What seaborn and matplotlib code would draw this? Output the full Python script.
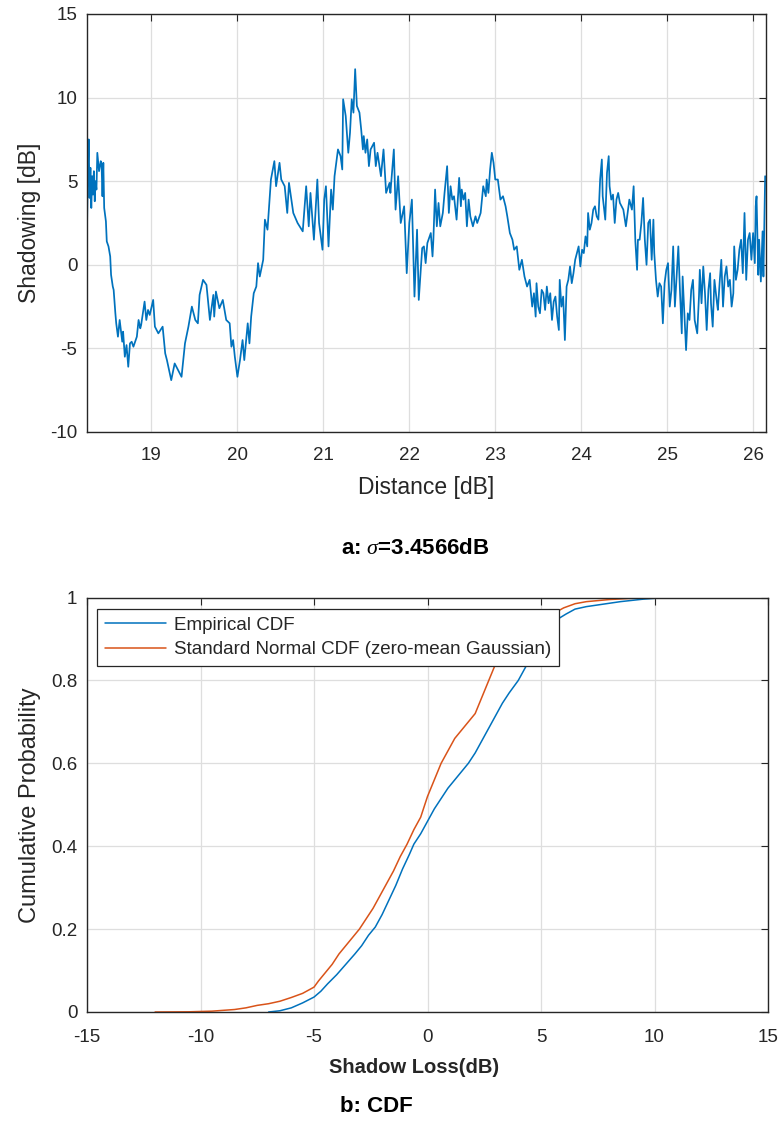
import matplotlib
matplotlib.use("Agg")
import matplotlib.pyplot as plt
import seaborn as sns
import pandas as pd
from matplotlib.ticker import FuncFormatter

# ---------------- data ----------------
distance = [
    18.25, 18.26, 18.27, 18.28, 18.29, 18.30, 18.31, 18.32, 18.33, 18.34,
    18.35, 18.36, 18.37, 18.39, 18.41, 18.42, 18.43, 18.44, 18.45, 18.47,
    18.48, 18.50, 18.52, 18.53, 18.55, 18.56, 18.58, 18.59, 18.61, 18.63,
    18.66, 18.67, 18.69, 18.71, 18.73, 18.75, 18.77, 18.79, 18.81, 18.83,
    18.85, 18.87, 18.88, 18.92, 18.94, 18.96, 18.98, 19.02, 19.04, 19.08,
    19.13, 19.16, 19.18, 19.23, 19.27, 19.31, 19.35, 19.39, 19.43, 19.47,
    19.51, 19.54, 19.56, 19.60, 19.64, 19.68, 19.72, 19.73, 19.75, 19.79,
    19.83, 19.87, 19.91, 19.93, 19.95, 19.97, 20.00, 20.03, 20.06, 20.08,
    20.12, 20.14, 20.16, 20.19, 20.22, 20.24, 20.26, 20.30, 20.32, 20.35,
    20.39, 20.43, 20.45, 20.49, 20.51, 20.55, 20.58, 20.60, 20.65, 20.70,
    20.76, 20.80, 20.83, 20.85, 20.89, 20.93, 20.95, 20.99, 21.01, 21.03,
    21.06, 21.09, 21.11, 21.13, 21.17, 21.20, 21.22, 21.23, 21.26, 21.29,
    21.31, 21.33, 21.35, 21.37, 21.39, 21.42, 21.44, 21.46, 21.47, 21.49,
    21.51, 21.53, 21.55, 21.59, 21.61, 21.63, 21.67, 21.70, 21.73, 21.77,
    21.78, 21.82, 21.84, 21.87, 21.90, 21.94, 21.97, 22.00, 22.03, 22.06,
    22.09, 22.11, 22.15, 22.17, 22.19, 22.21, 22.25, 22.27, 22.28, 22.30,
    22.32, 22.34, 22.36, 22.39, 22.41, 22.44, 22.46, 22.48, 22.50, 22.52,
    22.55, 22.58, 22.60, 22.61, 22.63, 22.65, 22.67, 22.69, 22.71, 22.74,
    22.77, 22.79, 22.83, 22.86, 22.89, 22.90, 22.92, 22.94, 22.96, 22.98,
    23.00, 23.03, 23.06, 23.09, 23.12, 23.14, 23.17, 23.20, 23.22, 23.25,
    23.28, 23.31, 23.34, 23.37, 23.40, 23.43, 23.45, 23.47, 23.48, 23.50,
    23.52, 23.54, 23.56, 23.58, 23.60, 23.62, 23.64, 23.66, 23.68, 23.70,
    23.72, 23.74, 23.75, 23.77, 23.79, 23.81, 23.83, 23.85, 23.87, 23.89,
    23.91, 23.93, 23.95, 23.97, 23.99, 24.01, 24.03, 24.05, 24.07, 24.08,
    24.10, 24.12, 24.14, 24.16, 24.18, 24.20, 24.22, 24.24, 24.25, 24.28,
    24.30, 24.32, 24.33, 24.35, 24.37, 24.39, 24.41, 24.43, 24.45, 24.47,
    24.49, 24.52, 24.54, 24.56, 24.59, 24.61, 24.63, 24.65, 24.66, 24.68,
    24.70, 24.72, 24.74, 24.76, 24.78, 24.80, 24.82, 24.84, 24.85, 24.87,
    24.89, 24.91, 24.93, 24.95, 24.97, 24.99, 25.01, 25.03, 25.05, 25.07,
    25.09, 25.11, 25.13, 25.15, 25.17, 25.18, 25.20, 25.22, 25.24, 25.26,
    25.28, 25.30, 25.32, 25.35, 25.37, 25.38, 25.40, 25.42, 25.44, 25.46,
    25.48, 25.50, 25.51, 25.53, 25.55, 25.58, 25.59, 25.61, 25.63, 25.65,
    25.67, 25.69, 25.71, 25.73, 25.75, 25.77, 25.78, 25.80, 25.82, 25.84,
    25.86, 25.88, 25.90, 25.92, 25.94, 25.96, 25.98, 26.00, 26.02, 26.03,
    26.04, 26.06, 26.07, 26.09, 26.11, 26.12, 26.14,
]
shadowing = [
    2.1, 5.5, 7.5, 4.0, 5.8, 3.4, 5.3, 4.2, 5.6, 3.8,
    5.0, 4.5, 6.7, 5.6, 6.2, 5.9, 4.1, 6.1, 3.4, 2.6,
    1.4, 1.1, 0.5, -0.6, -1.3, -1.5, -2.9, -3.5, -4.3, -3.3,
    -4.6, -4.0, -5.5, -4.8, -6.1, -4.7, -4.6, -4.9, -4.6, -4.3,
    -3.3, -3.8, -3.6, -2.2, -3.3, -2.7, -3.0, -2.1, -3.7, -4.1,
    -3.7, -5.3, -5.7, -6.9, -5.9, -6.3, -6.7, -4.7, -3.7, -2.5,
    -3.3, -3.5, -1.8, -0.9, -1.2, -3.3, -1.8, -3.1, -1.6, -2.6,
    -2.1, -3.3, -3.5, -4.9, -4.5, -5.5, -6.7, -5.7, -4.5, -5.7,
    -3.5, -4.7, -3.1, -1.7, -1.3, 0.1, -0.7, 0.3, 2.7, 2.1,
    5.1, 6.2, 4.7, 6.1, 5.1, 4.7, 3.1, 4.9, 3.1, 2.5,
    2.0, 4.7, 2.3, 4.3, 1.5, 5.1, 2.5, 0.9, 3.9, 4.7,
    1.1, 4.5, 3.3, 5.3, 6.9, 6.5, 5.7, 9.9, 8.9, 6.7,
    7.9, 9.9, 9.1, 11.7, 9.5, 9.1, 8.1, 6.9, 7.7, 6.7,
    7.5, 5.9, 6.9, 7.3, 5.9, 6.7, 5.3, 6.9, 4.3, 4.9,
    4.3, 6.9, 3.3, 5.3, 2.5, 3.5, -0.5, 2.5, 3.9, -1.9,
    2.1, -2.1, 1.0, 1.1, 0.1, 1.3, 1.9, 0.5, 1.5, 4.5,
    2.3, 3.7, 2.3, 3.1, 4.3, 5.9, 3.1, 4.7, 3.9, 4.1,
    2.7, 5.2, 3.5, 4.5, 3.9, 4.3, 2.3, 3.9, 2.9, 2.3,
    2.9, 2.5, 3.1, 4.7, 4.1, 5.1, 4.3, 5.7, 6.7, 6.1,
    5.1, 5.1, 3.9, 4.1, 3.5, 2.9, 1.9, 1.5, 0.9, 1.1,
    -0.3, 0.3, -0.7, -1.3, -0.9, -2.5, -1.7, -3.1, -1.1, -2.5,
    -2.9, -1.5, -1.7, -2.7, -1.3, -2.3, -1.7, -3.3, -2.2, -1.9,
    -3.1, -3.9, -0.9, -2.5, -1.9, -4.5, -1.3, -0.9, -0.1, -1.1,
    -0.5, 0.3, 0.7, 1.1, -0.1, 0.9, 0.7, 1.7, 1.1, 3.1,
    2.1, 2.5, 3.3, 3.5, 2.9, 2.7, 5.1, 6.3, 4.1, 2.7,
    5.5, 6.5, 4.7, 3.9, 4.2, 2.5, 3.9, 4.3, 3.7, 3.5,
    3.3, 2.3, 3.1, 3.9, 3.3, 4.7, 1.4, -0.3, 1.5, 1.5,
    2.5, 4.0, 1.5, 0.0, 2.5, 2.7, 0.3, 2.7, 0.7, -0.9,
    -1.9, -1.1, -1.3, -3.5, -1.1, -0.3, 0.1, -2.5, -1.5, 1.1,
    -2.5, -0.7, 1.1, -1.7, -4.1, -0.7, -2.9, -5.1, -2.9, -3.3,
    -1.5, -0.9, -3.3, -4.1, -1.9, -0.3, -2.3, -0.1, -1.7, -3.9,
    -1.5, -0.5, -2.3, -3.7, -0.9, -2.3, -2.7, -1.1, 0.3, -2.5,
    -0.7, -0.1, -1.3, -0.9, -2.5, -1.7, 1.1, -0.9, -0.3, 0.9,
    1.5, -0.5, 3.1, -0.9, 1.5, 1.9, 0.3, 1.9, 0.1, 3.5,
    4.1, -0.6, 1.5, -1.0, 2.0, -0.7, 5.3,
]

emp_loss = [-7.0, -6.5, -6.0, -5.5, -5.0, -4.7, -4.4, -4.0, -3.6, -3.2,
            -2.9, -2.6, -2.3, -2.0, -1.7, -1.4, -1.1, -0.8, -0.6, -0.3,
            0.0, 0.3, 0.6, 0.9, 1.2, 1.5, 1.8, 2.1, 2.4, 2.7,
            3.0, 3.3, 3.6, 4.0, 4.3, 4.6, 4.9, 5.2, 5.5, 5.8,
            6.1, 6.5, 7.0, 7.5, 8.0, 8.5, 9.0, 9.5, 10.0, 10.5, 11.7]
emp_prob = [0.0, 0.003, 0.01, 0.022, 0.036, 0.05, 0.068, 0.09, 0.115, 0.14,
            0.16, 0.185, 0.205, 0.235, 0.27, 0.305, 0.345, 0.38, 0.405, 0.43,
            0.46, 0.49, 0.515, 0.54, 0.56, 0.58, 0.60, 0.625, 0.655, 0.685,
            0.715, 0.745, 0.77, 0.80, 0.83, 0.86, 0.89, 0.915, 0.935, 0.95,
            0.96, 0.972, 0.978, 0.982, 0.986, 0.99, 0.993, 0.996, 0.998, 0.999, 1.0]

norm_loss = [-12.0, -10.5, -9.5, -8.5, -8.0, -7.5, -7.0, -6.5, -6.0, -5.5,
             -5.0, -4.8, -4.5, -4.2, -3.9, -3.6, -3.3, -3.0, -2.7, -2.4,
             -2.1, -1.8, -1.5, -1.2, -0.9, -0.6, -0.3, 0.0, 0.3, 0.6,
             0.9, 1.2, 1.5, 1.8, 2.1, 2.4, 2.7, 3.0, 3.3, 3.6,
             4.0, 4.5, 5.0, 5.5, 6.0, 6.5, 7.0, 8.0, 9.0, 10.0]
norm_prob = [0.0, 0.0005, 0.002, 0.006, 0.01, 0.016, 0.02, 0.026, 0.035, 0.045,
             0.06, 0.075, 0.095, 0.115, 0.14, 0.16, 0.18, 0.20, 0.225, 0.25,
             0.28, 0.31, 0.34, 0.375, 0.405, 0.44, 0.47, 0.52, 0.56, 0.60,
             0.63, 0.66, 0.68, 0.70, 0.72, 0.76, 0.80, 0.84, 0.87, 0.89,
             0.91, 0.93, 0.945, 0.96, 0.975, 0.985, 0.99, 0.995, 0.998, 1.0]

series_names = ["Empirical CDF", "Standard Normal CDF (zero-mean Gaussian)"]
top_xticks = [19, 20, 21, 22, 23, 24, 25, 26]
top_yticks = [-10, -5, 0, 5, 10, 15]
bot_xticks = [-15, -10, -5, 0, 5, 10, 15]
bot_yticks = [0, 0.2, 0.4, 0.6, 0.8, 1]

# ---------------- style ----------------
sns.set_theme(style="whitegrid")
plt.rcParams["font.family"] = ["Liberation Sans", "DejaVu Sans"]
plt.rcParams["axes.unicode_minus"] = False
plt.rcParams["mathtext.fontset"] = "custom"
plt.rcParams["mathtext.it"] = "Liberation Serif:italic"
plt.rcParams["mathtext.rm"] = "Liberation Sans"
plt.rcParams["mathtext.bf"] = "Liberation Sans:bold"

BLUE = "#0072BD"
RED = "#D95319"
DARK = "#262626"
GRID = "#dedede"

W, H = 781, 1131
fig = plt.figure(figsize=(W / 100, H / 100), dpi=100)
fig.patch.set_facecolor("white")

ax1 = fig.add_axes([87 / W, 1 - 432 / H, (766 - 87) / W, (432 - 14) / H])
ax2 = fig.add_axes([87 / W, 1 - 1012 / H, (768 - 87) / W, (1012 - 597.5) / H])


def style_axes(ax, xpad):
    ax.set_facecolor("white")
    ax.grid(True, color=GRID, linewidth=0.9)
    for sp in ax.spines.values():
        sp.set_visible(True)
        sp.set_color(DARK)
        sp.set_linewidth(1.0)
    ax.tick_params(direction="in", top=True, right=True, length=5, width=0.8,
                   color=DARK, labelcolor=DARK, labelsize=13.5)
    ax.tick_params(axis="x", pad=xpad)
    ax.tick_params(axis="y", pad=7)


# ---------------- top: shadowing vs distance ----------------
df1 = pd.DataFrame({"Distance": distance, "Shadowing": shadowing})
sns.lineplot(data=df1, x="Distance", y="Shadowing", ax=ax1, color=BLUE,
             linewidth=1.25, estimator=None, sort=False)
ax1.set_xlim(18.25, 26.15)
ax1.set_ylim(-10, 15)
ax1.set_xticks(top_xticks)
ax1.set_yticks(top_yticks)
style_axes(ax1, 11)
ax1.set_xlabel("Distance [dB]", fontsize=16.5, color=DARK)
ax1.set_ylabel("Shadowing [dB]", fontsize=16.5, color=DARK)
ax1.xaxis.set_label_coords(0.5, -0.105)
ax1.yaxis.set_label_coords(-0.068, 0.5)

fig.text(415 / W, 1 - 548 / H, r"a: $\sigma$=3.4566dB", ha="center", va="center",
         fontsize=16, fontweight="bold", color="black")

# ---------------- bottom: CDFs ----------------
df2 = pd.concat([
    pd.DataFrame({"Loss": emp_loss, "Prob": emp_prob, "Series": series_names[0]}),
    pd.DataFrame({"Loss": norm_loss, "Prob": norm_prob, "Series": series_names[1]}),
])
sns.lineplot(data=df2, x="Loss", y="Prob", hue="Series", hue_order=series_names,
             palette=[BLUE, RED], ax=ax2, linewidth=1.1, estimator=None, sort=False)
ax2.set_xlim(-15, 15)
ax2.set_ylim(0, 1)
ax2.set_xticks(bot_xticks)
ax2.set_yticks(bot_yticks)
ax2.yaxis.set_major_formatter(FuncFormatter(lambda v, p: f"{v:g}"))
style_axes(ax2, 12)
ax2.set_xlabel("Shadow Loss(dB)", fontsize=14.5, fontweight="bold", color=DARK)
ax2.set_ylabel("Cumulative Probability", fontsize=17, color=DARK)
ax2.xaxis.set_label_coords(0.48, -0.112)
ax2.yaxis.set_label_coords(-0.068, 0.5)

leg = ax2.legend(loc="upper left", bbox_to_anchor=(0.0147, 0.972), borderaxespad=0,
                 fontsize=13.5, frameon=True, fancybox=False, framealpha=1,
                 edgecolor=DARK, handlelength=3.3, handletextpad=0.4,
                 labelspacing=0.4, borderpad=0.4, title=None)
leg.get_frame().set_linewidth(0.9)
for t in leg.get_texts():
    t.set_color(DARK)

fig.text(376 / W, 1 - 1107 / H, "b: CDF", ha="center", va="center",
         fontsize=16, fontweight="bold", color="black")

fig.savefig("out.png", dpi=100, facecolor="white")
